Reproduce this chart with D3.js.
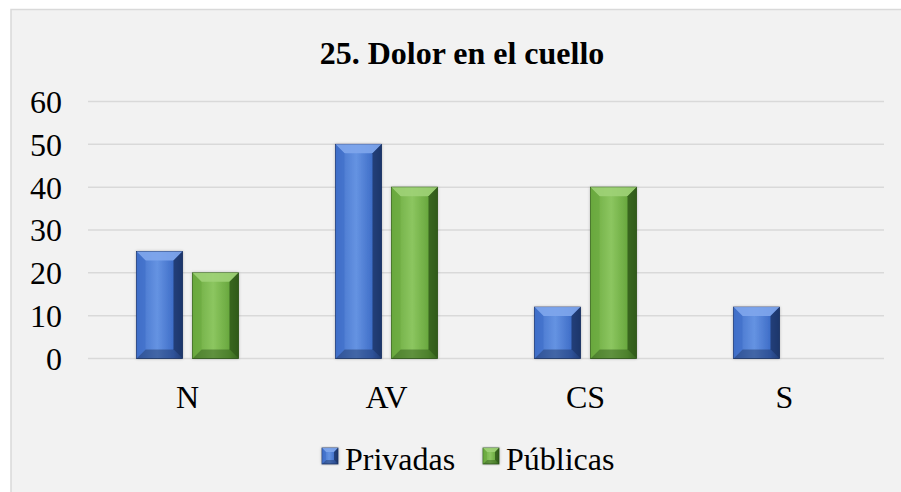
<!doctype html>
<html>
<head>
<meta charset="utf-8">
<style>
	body { margin: 0; background: #fff; }
	svg { display: block; }
	text { font-family: "Liberation Serif", "Times New Roman", serif; fill: #000; }
</style>
</head>
<body>
<div class="chart"></div>
<script src="https://d3js.org/d3.v7.min.js"></script>
<script>
	let title = "25. Dolor en el cuello";
	let categories = ["N", "AV", "CS", "S"];
	let seriesNames = ["Privadas", "Públicas"];
	let privadas = [25, 50, 12, 12];
	let publicas = [20, 40, 40, 0];
	let yTicks = [0, 10, 20, 30, 40, 50, 60];

	let width = 901,
		height = 492,
		plotLeft = 88,
		plotRight = 884,
		plotTop = 101.5,
		plotBottom = 358.5;

	let colors = [
		{ id: "blue", light: "#6593e2", mid: "#3f6ec8", dark: "#1a3060", edge: "#27488a", topc: "#7fa6ec" },
		{ id: "green", light: "#8cc660", mid: "#69a83e", dark: "#2a5216", edge: "#427526", topc: "#9fd277" }
	];

	let svg = d3.select(".chart")
		.append("svg")
		.attr("width", width)
		.attr("height", height);

	let defs = svg.append("defs");
	colors.forEach(c => {
		let g = defs.append("linearGradient").attr("id", "grad-" + c.id)
			.attr("x1", "0").attr("x2", "1").attr("y1", "0").attr("y2", "0");
		g.append("stop").attr("offset", "0").attr("stop-color", c.mid);
		g.append("stop").attr("offset", "0.45").attr("stop-color", c.light);
		g.append("stop").attr("offset", "0.8").attr("stop-color", c.mid);
		g.append("stop").attr("offset", "1").attr("stop-color", c.edge);
	});
	let shadow = defs.append("filter").attr("id", "shadow")
		.attr("x", "-20%").attr("y", "-10%").attr("width", "140%").attr("height", "120%");
	shadow.append("feGaussianBlur").attr("in", "SourceAlpha").attr("stdDeviation", 1.5).attr("result", "b");
	shadow.append("feComponentTransfer").attr("in", "b").attr("result", "s")
		.append("feFuncA").attr("type", "linear").attr("slope", 0.25);
	let merge = shadow.append("feMerge");
	merge.append("feMergeNode").attr("in", "s");
	merge.append("feMergeNode").attr("in", "SourceGraphic");

	// chart area
	svg.append("rect")
		.attr("x", 11).attr("y", 9.5)
		.attr("width", width).attr("height", height)
		.attr("fill", "#f2f2f2")
		.attr("stroke", "#d9d9d9")
		.attr("stroke-width", 1.5);

	svg.append("text")
		.attr("x", 462).attr("y", 64)
		.attr("text-anchor", "middle")
		.style("font-weight", "bold")
		.style("font-size", "32px")
		.text(title);

	let x = d3.scaleBand().domain(categories).range([plotLeft, plotRight]).paddingInner(0).paddingOuter(0);
	let xs = d3.scaleBand().domain(seriesNames).range([0, x.bandwidth()]).paddingInner(0.179).paddingOuter(0.866);
	let y = d3.scaleLinear().domain([0, 60]).range([plotBottom, plotTop]);

	// grid
	svg.append("g")
		.selectAll("line")
		.data(yTicks)
		.join("line")
		.attr("x1", plotLeft).attr("x2", plotRight)
		.attr("y1", d => y(d)).attr("y2", d => y(d))
		.attr("stroke", "#d9d9d9")
		.attr("stroke-width", 1.5);

	let yAxis = d3.axisLeft(y).tickValues(yTicks).tickSize(0).tickPadding(0);
	let gy = svg.append("g").attr("transform", "translate(62,0)").call(yAxis);
	gy.select(".domain").remove();
	gy.selectAll("text").style("font-size", "32px").style("font-family", "Liberation Serif").attr("dy", "0.34em");

	let xAxis = d3.axisBottom(x).tickSize(0).tickPadding(0);
	let gx = svg.append("g").attr("transform", "translate(0,385)").call(xAxis);
	gx.select(".domain").remove();
	gx.selectAll("text").style("font-size", "32px").style("font-family", "Liberation Serif").attr("dy", "0.71em");

	let rows = [];
	categories.forEach((c, i) => {
		rows.push({ cat: c, s: 0, v: privadas[i] });
		rows.push({ cat: c, s: 1, v: publicas[i] });
	});

	function bevelBar(g, x0, x1, y0, y1, c) {
		let h = y1 - y0;
		if (h <= 0) return;
		let b = Math.min(9, h / 3, (x1 - x0) / 4);
		g.append("rect")
			.attr("x", x0).attr("y", y0).attr("width", x1 - x0).attr("height", h)
			.attr("fill", "url(#grad-" + c.id + ")")
			.attr("stroke", c.dark).attr("stroke-width", 0.8)
			.attr("filter", "url(#shadow)");
		// top bevel
		g.append("polygon")
			.attr("points", [[x0, y0], [x1, y0], [x1 - b, y0 + b], [x0 + b, y0 + b]].join(" "))
			.attr("fill", c.topc).attr("opacity", 0.9);
		// right bevel
		g.append("polygon")
			.attr("points", [[x1, y0], [x1, y1], [x1 - b, y1 - b], [x1 - b, y0 + b]].join(" "))
			.attr("fill", c.dark).attr("opacity", 0.75);
		// bottom bevel
		g.append("polygon")
			.attr("points", [[x0, y1], [x1, y1], [x1 - b, y1 - b], [x0 + b, y1 - b]].join(" "))
			.attr("fill", c.dark).attr("opacity", 0.45);
		// left bevel
		g.append("polygon")
			.attr("points", [[x0, y0], [x0, y1], [x0 + b, y1 - b], [x0 + b, y0 + b]].join(" "))
			.attr("fill", c.mid).attr("opacity", 0.6);
	}

	let bars = svg.append("g");
	rows.forEach(d => {
		let x0 = x(d.cat) + xs(seriesNames[d.s]);
		bevelBar(bars.append("g"), x0, x0 + xs.bandwidth(), y(d.v), y(0), colors[d.s]);
	});

	// legend
	let legend = svg.append("g");
	let legendX = [322, 483];
	seriesNames.forEach((n, i) => {
		let g = legend.append("g");
		bevelBar(g, legendX[i], legendX[i] + 16, 448, 464, colors[i]);
		g.append("text")
			.attr("x", legendX[i] + 23).attr("y", 470)
			.style("font-size", "32px")
			.text(n);
	});
</script>
</body>
</html>
